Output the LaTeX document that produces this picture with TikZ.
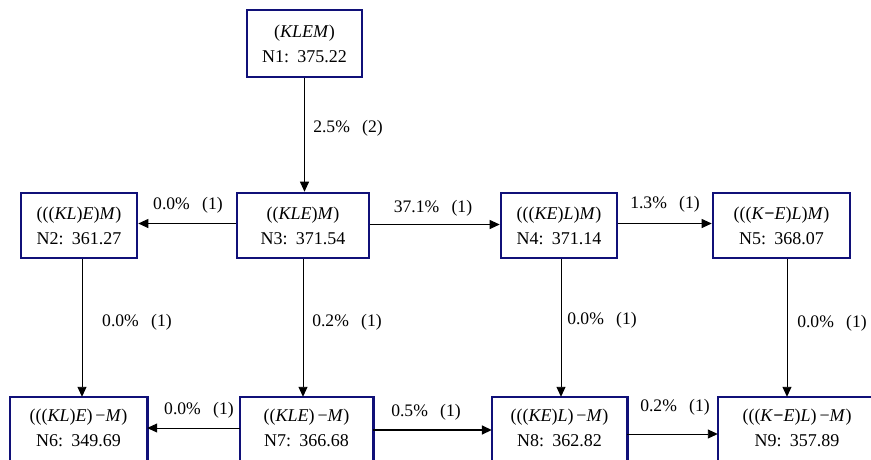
\documentclass[tikz,border=0pt]{standalone}
\usepackage{fontspec}
\setmainfont{Liberation Serif}
\usetikzlibrary{arrows.meta,calc}
\definecolor{boxblue}{RGB}{16,16,120}
\begin{document}
\begin{tikzpicture}[x=1pt,y=-1pt,
  boxline/.style={draw=boxblue, line width=2.6pt},
  box/.style={boxline, fill=white, align=center, inner sep=0pt,
              font=\fontsize{18}{25}\selectfont},
  lowbox/.style={align=center, inner sep=0pt, font=\fontsize{18}{25}\selectfont},
  lab/.style={inner sep=0pt, font=\fontsize{17.6}{20}\selectfont},
  arr/.style={-{Triangle[length=10pt,width=9pt]}, line width=0.9pt},
]
\useasboundingbox (0,0) rectangle (871,459);
% nodes
\node[box, minimum width=115pt, minimum height=67pt] (N1) at (304.5,43.5)
  {(\textit{KLEM})\\N1:\hspace{0.45em}375.22};
\node[box, minimum width=116pt, minimum height=65pt] (N2) at (79,225.5)
  {(((\textit{KL})\textit{E})\textit{M})\\N2:\hspace{0.45em}361.27};
\node[box, minimum width=132pt, minimum height=65pt] (N3) at (303,225.5)
  {((\textit{KLE})\textit{M})\\N3:\hspace{0.45em}371.54};
\node[box, minimum width=116pt, minimum height=65pt] (N4) at (559,225.5)
  {(((\textit{KE})\textit{L})\textit{M})\\N4:\hspace{0.45em}371.14};
\node[box, minimum width=137pt, minimum height=65pt] (N5) at (781.5,225.5)
  {(((\textit{K}{\bfseries −}\textit{E})\textit{L})\textit{M})\\N5:\hspace{0.45em}368.07};
\node[lowbox, minimum width=137pt, minimum height=62pt] (N6) at (78.5,428)
  {(((\textit{KL})\textit{E})\,−\textit{M})\\N6:\hspace{0.45em}349.69};
\node[lowbox, minimum width=133pt, minimum height=62pt] (N7) at (306.5,428)
  {((\textit{KLE})\,−\textit{M})\\N7:\hspace{0.45em}366.68};
\node[lowbox, minimum width=135pt, minimum height=62pt] (N8) at (559.5,428)
  {(((\textit{KE})\textit{L})\,−\textit{M})\\N8:\hspace{0.45em}362.82};
\node[lowbox, minimum width=158pt, minimum height=62pt] (N9) at (797,428)
  {(((\textit{K}{\bfseries −}\textit{E})\textit{L})\,−\textit{M})\\N9:\hspace{0.45em}357.89};
% bottom-row boxes run past the lower edge of the picture
\foreach \n in {N6,N7,N8,N9}
  \draw[boxline] (\n.north west) rectangle ($(\n.south east)+(0,12)$);
% connectors
\draw[arr] (N1.south) -- (N1.south |- N3.north);
\draw[arr] ([yshift=2pt]N3.west) -- ([yshift=2pt]N2.east);
\draw[arr] ([yshift=1pt]N3.east) -- ([yshift=1pt]N4.west);
\draw[arr] ([yshift=2pt]N4.east) -- ([yshift=2pt]N5.west);
\draw[arr] ([xshift=3pt]N2.south) -- ([xshift=3pt]N2.south |- N6.north);
\draw[arr] (N3.south) -- (N3.south |- N7.north);
\draw[arr] ([xshift=2pt]N4.south) -- ([xshift=2pt]N4.south |- N8.north);
\draw[arr] ([xshift=5.5pt]N5.south) -- ([xshift=5.5pt]N5.south |- N9.north);
\draw[arr] (N7.west) -- (N7.west -| N6.east);
\draw[arr, line width=1.6pt] ([yshift=-2pt]N7.east) -- ([yshift=-2pt]N7.east -| N8.west);
\draw[arr] ([yshift=-6pt]N8.east) -- ([yshift=-6pt]N8.east -| N9.west);
% labels
\node[lab] (L13) at (348,128) {2.5\%\hspace{0.7em}(2)};
\node[lab] (L32) at (188,205) {0.0\%\hspace{0.7em}(1)};
\node[lab] (L34) at (433,208) {37.1\%\hspace{0.7em}(1)};
\node[lab] (L45) at (665,204) {1.3\%\hspace{0.7em}(1)};
\node[lab] (L26) at (137,322) {0.0\%\hspace{0.7em}(1)};
\node[lab] (L37) at (347,322) {0.2\%\hspace{0.7em}(1)};
\node[lab] (L48) at (602,320) {0.0\%\hspace{0.7em}(1)};
\node[lab] (L59) at (832,323) {0.0\%\hspace{0.7em}(1)};
\node[lab] (L76) at (199,410) {0.0\%\hspace{0.7em}(1)};
\node[lab] (L78) at (426,412) {0.5\%\hspace{0.7em}(1)};
\node[lab] (L89) at (675,407) {0.2\%\hspace{0.7em}(1)};
\end{tikzpicture}
\end{document}
